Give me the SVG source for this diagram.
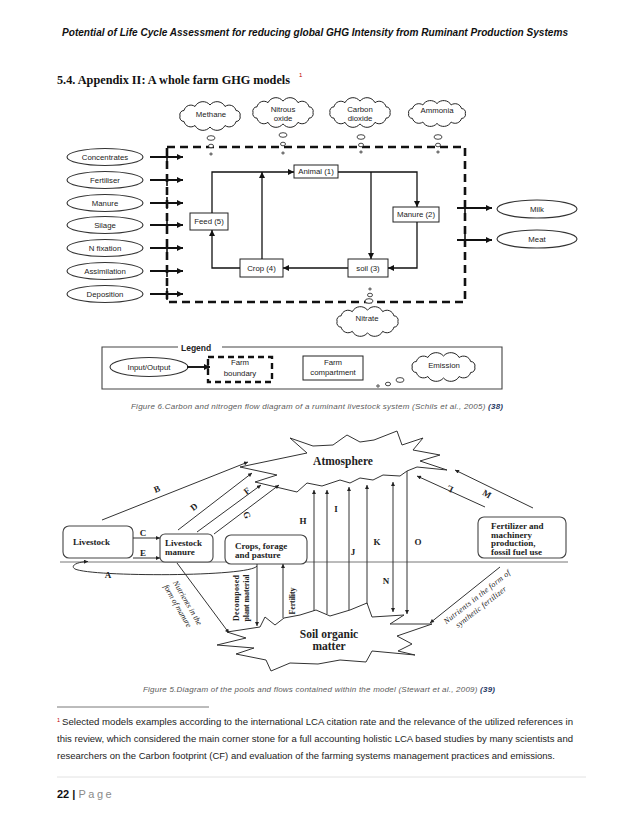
<svg xmlns="http://www.w3.org/2000/svg" xmlns:xlink="http://www.w3.org/1999/xlink" width="638" height="826" viewBox="0 0 638 826">
<defs>
<style>
.sans{font-family:"Liberation Sans",Arial,sans-serif;}
.serif{font-family:"Liberation Serif","Times New Roman",serif;}
.t7{font-family:"Liberation Sans",Arial,sans-serif;font-size:7.8px;fill:#222;text-anchor:middle;}
.bx{fill:#fff;stroke:#222;stroke-width:1;}
.el{fill:#fff;stroke:#333;stroke-width:1.1;}
.fl{fill:none;stroke:#111;stroke-width:1.3;}
.io{fill:none;stroke:#111;stroke-width:1.9;}
.bub{fill:#fff;stroke:#333;stroke-width:0.9;}
.rb{fill:#fff;stroke:#444;stroke-width:1.1;}
.ln{fill:none;stroke:#333;stroke-width:1;}
.lb{font-family:"Liberation Serif","Times New Roman",serif;font-size:9px;font-weight:bold;fill:#222;text-anchor:middle;}
.bt{font-family:"Liberation Serif","Times New Roman",serif;font-size:9px;font-weight:bold;fill:#222;}
.it{font-family:"Liberation Serif","Times New Roman",serif;font-size:8px;font-style:italic;fill:#222;text-anchor:middle;}
.vt{font-family:"Liberation Serif","Times New Roman",serif;font-size:8px;font-weight:bold;fill:#222;text-anchor:middle;}
.cap{font-family:"Liberation Sans",Arial,sans-serif;font-size:8px;font-style:italic;fill:#5a5a5a;}
.fn{font-family:"Liberation Sans",Arial,sans-serif;font-size:9px;fill:#222;}
</style>
<symbol id="cloud" viewBox="0 0 70 30" preserveAspectRatio="none" style="overflow:visible">
<path d="M5,15 A4.2,4.2 0 0 1 9,9.5 A7,7 0 0 1 20,5.5 A9,9 0 0 1 35,4 A9,9 0 0 1 50,5.5 A7,7 0 0 1 61,9.5 A4.2,4.2 0 0 1 65,15 A4.2,4.2 0 0 1 61,20.5 A7,7 0 0 1 50,24.5 A9,9 0 0 1 35,26 A9,9 0 0 1 20,24.5 A7,7 0 0 1 9,20.5 A4.2,4.2 0 0 1 5,15 Z" fill="#fff" stroke="#222" stroke-width="1" vector-effect="non-scaling-stroke"/>
</symbol>
<marker id="ah" viewBox="0 0 10 10" refX="10" refY="5" markerWidth="7" markerHeight="6" markerUnits="userSpaceOnUse" orient="auto"><path d="M0,0 L10,5 L0,10 z" fill="#111"/></marker>
<marker id="as" viewBox="0 0 10 10" refX="10" refY="5" markerWidth="5" markerHeight="4" markerUnits="userSpaceOnUse" orient="auto"><path d="M0,0 L10,5 L0,10 z" fill="#222"/></marker>
<marker id="asr" viewBox="0 0 10 10" refX="0" refY="5" markerWidth="5" markerHeight="4" markerUnits="userSpaceOnUse" orient="auto"><path d="M10,0 L0,5 L10,10 z" fill="#222"/></marker>
</defs>
<rect width="638" height="826" fill="#fff"/>

<!-- page header and title -->
<text x="62" y="36" class="sans" font-size="10" font-weight="bold" font-style="italic" fill="#111" textLength="506" lengthAdjust="spacingAndGlyphs">Potential of Life Cycle Assessment for reducing global GHG Intensity from Ruminant Production Systems</text>
<text x="57" y="84" class="serif" font-size="12.5" font-weight="bold" fill="#111" textLength="233" lengthAdjust="spacingAndGlyphs">5.4. Appendix II: A whole farm GHG models</text>
<text x="299" y="77" class="sans" font-size="6" fill="#c00000">1</text>

<!-- ===== Figure 6 ===== -->
<g id="farm-boundary"><rect x="167" y="147" width="298" height="155" fill="none" stroke="#111" stroke-width="2.6" stroke-dasharray="8,5"/></g>

<g id="methane"><use xlink:href="#cloud" x="175" y="101" width="70" height="30"/><text class="t7" x="211" y="117">Methane</text>
<ellipse class="bub" cx="211" cy="138" rx="4" ry="2.3"/><ellipse class="bub" cx="211" cy="146" rx="2.5" ry="1.8"/><ellipse class="bub" cx="211" cy="154" rx="1.2" ry="1"/></g>
<g id="nitrous-oxide"><use xlink:href="#cloud" x="248" y="97" width="70" height="31"/><text class="t7" x="283" y="112">Nitrous</text><text class="t7" x="283" y="121">oxide</text>
<ellipse class="bub" cx="283" cy="135" rx="4" ry="2.3"/><ellipse class="bub" cx="283" cy="144" rx="2.5" ry="1.8"/><ellipse class="bub" cx="283" cy="153" rx="1.2" ry="1"/></g>
<g id="carbon-dioxide"><use xlink:href="#cloud" x="325" y="97" width="70" height="31"/><text class="t7" x="360" y="112">Carbon</text><text class="t7" x="360" y="121">dioxide</text>
<ellipse class="bub" cx="361" cy="137" rx="4" ry="2.3"/><ellipse class="bub" cx="361" cy="145" rx="2.5" ry="1.8"/><ellipse class="bub" cx="361" cy="152" rx="1.2" ry="1"/></g>
<g id="ammonia"><use xlink:href="#cloud" x="404" y="100" width="66" height="27"/><text class="t7" x="437" y="113">Ammonia</text>
<ellipse class="bub" cx="438" cy="137" rx="4" ry="2.3"/><ellipse class="bub" cx="438" cy="145" rx="2.5" ry="1.8"/><ellipse class="bub" cx="438" cy="152" rx="1.2" ry="1"/></g>
<g id="nitrate"><ellipse class="bub" cx="370" cy="289" rx="1.2" ry="1"/><ellipse class="bub" cx="370" cy="295" rx="2.5" ry="1.8"/><ellipse class="bub" cx="369" cy="301" rx="4" ry="2.3"/>
<use xlink:href="#cloud" x="332" y="306" width="71" height="31"/><text class="t7" x="367" y="321">Nitrate</text></g>

<g id="in-concentrates"><ellipse class="el" cx="105" cy="157" rx="38" ry="8.5"/><text class="t7" x="105" y="159.7">Concentrates</text></g>
<g id="in-fertiliser"><ellipse class="el" cx="105" cy="180" rx="38" ry="8.5"/><text class="t7" x="105" y="182.7">Fertiliser</text></g>
<g id="in-manure"><ellipse class="el" cx="105" cy="203" rx="38" ry="8.5"/><text class="t7" x="105" y="205.7">Manure</text></g>
<g id="in-silage"><ellipse class="el" cx="105" cy="225" rx="38" ry="8.5"/><text class="t7" x="105" y="227.7">Silage</text></g>
<g id="in-nfixation"><ellipse class="el" cx="105" cy="248" rx="38" ry="8.5"/><text class="t7" x="105" y="250.7">N fixation</text></g>
<g id="in-assimilation"><ellipse class="el" cx="105" cy="271" rx="38" ry="8.5"/><text class="t7" x="105" y="273.7">Assimilation</text></g>
<g id="in-deposition"><ellipse class="el" cx="105" cy="294" rx="38" ry="8.5"/><text class="t7" x="105" y="296.7">Deposition</text></g>
<g id="out-milk"><ellipse class="el" cx="537" cy="209" rx="40" ry="9"/><text class="t7" x="537" y="211.7">Milk</text></g>
<g id="out-meat"><ellipse class="el" cx="537" cy="239" rx="40" ry="9"/><text class="t7" x="537" y="241.7">Meat</text></g>

<g id="animal"><rect class="bx" x="294" y="165" width="44" height="13"/><text class="t7" x="316" y="174.3">Animal (1)</text></g>
<g id="feed"><rect class="bx" x="190" y="213" width="38" height="17"/><text class="t7" x="209" y="224.3">Feed (5)</text></g>
<g id="manure2"><rect class="bx" x="393" y="207" width="46" height="15"/><text class="t7" x="416" y="217.3">Manure (2)</text></g>
<g id="crop"><rect class="bx" x="240" y="259" width="43" height="18"/><text class="t7" x="261.5" y="270.8">Crop (4)</text></g>
<g id="soil3"><rect class="bx" x="348" y="259" width="40" height="18"/><text class="t7" x="368" y="270.8">soil (3)</text></g>

<g id="connectors-fig6">
<g stroke="#111" stroke-width="1.6">
<line x1="167" y1="151" x2="167" y2="163"/><line x1="167" y1="174" x2="167" y2="186"/><line x1="167" y1="197" x2="167" y2="209"/><line x1="167" y1="219" x2="167" y2="231"/><line x1="167" y1="242" x2="167" y2="254"/><line x1="167" y1="265" x2="167" y2="277"/><line x1="167" y1="288" x2="167" y2="300"/>
<line x1="465" y1="202" x2="465" y2="214"/><line x1="465" y1="234" x2="465" y2="246"/>
</g>
<line class="io" x1="150" y1="157" x2="183" y2="157" marker-end="url(#ah)"/>
<line class="io" x1="150" y1="180" x2="183" y2="180" marker-end="url(#ah)"/>
<line class="io" x1="150" y1="203" x2="183" y2="203" marker-end="url(#ah)"/>
<line class="io" x1="150" y1="225" x2="183" y2="225" marker-end="url(#ah)"/>
<line class="io" x1="150" y1="248" x2="183" y2="248" marker-end="url(#ah)"/>
<line class="io" x1="150" y1="271" x2="183" y2="271" marker-end="url(#ah)"/>
<line class="io" x1="150" y1="294" x2="183" y2="294" marker-end="url(#ah)"/>
<line class="io" x1="457" y1="208" x2="492" y2="208" marker-end="url(#ah)"/>
<line class="io" x1="457" y1="240" x2="492" y2="240" marker-end="url(#ah)"/>
<path class="fl" d="M212,213 V172 H294" marker-end="url(#ah)"/>
<path class="fl" d="M262,259 V172" marker-end="url(#ah)"/>
<path class="fl" d="M240,268 H212 V230" marker-end="url(#ah)"/>
<path class="fl" d="M338,172 H417 V207" marker-end="url(#ah)"/>
<path class="fl" d="M371,172 V259" marker-end="url(#ah)"/>
<path class="fl" d="M417,222 V268 H388" marker-end="url(#ah)"/>
<path class="fl" d="M348,268 H283" marker-end="url(#ah)"/>
</g>

<g id="legend">
<path d="M178,347 H102 V389 H502 V347 H222" fill="none" stroke="#444" stroke-width="1.1"/>
<text x="181" y="350.5" class="sans" font-size="8.5" font-weight="bold" fill="#222">Legend</text>
<ellipse class="el" cx="149" cy="367" rx="39" ry="9.5"/><text class="t7" x="149" y="369.7">Input/Output</text>
<line class="io" x1="187" y1="367" x2="210" y2="367" marker-end="url(#ah)"/>
<line x1="208" y1="361" x2="208" y2="373" stroke="#111" stroke-width="1.6"/>
<rect x="208" y="357" width="64" height="25" fill="none" stroke="#111" stroke-width="2.4" stroke-dasharray="6,4"/>
<text class="t7" x="240" y="365">Farm</text><text class="t7" x="240" y="376">boundary</text>
<rect class="bx" x="303" y="356" width="60" height="24"/>
<text class="t7" x="333" y="365">Farm</text><text class="t7" x="333" y="375">compartment</text>
<use xlink:href="#cloud" x="407" y="352" width="73" height="30"/><text class="t7" x="444" y="368">Emission</text>
<ellipse class="bub" cx="378" cy="386" rx="1.3" ry="1.1"/><ellipse class="bub" cx="388" cy="384" rx="2.6" ry="1.8"/><ellipse class="bub" cx="400" cy="380" rx="4" ry="2.4"/>
</g>

<text x="131" y="409" class="cap" textLength="372">Figure 6.Carbon and nitrogen flow diagram of a ruminant livestock system (Schils et al., 2005) <tspan font-weight="bold" fill="#1f3864">(38)</tspan></text>

<!-- ===== Figure 5 ===== -->
<g id="atmosphere">
<polygon points="290,438 313,446 333,445 347,435 360,442 374,440 397,431 402,445 423,438 413,450 440,455 420,461 447,470 417,467 407,471 400,476 383,475 373,480 360,478 350,483 340,480 322,486 307,483 297,492 255,482 277,475 240,467 307,453" fill="#fff" stroke="#333" stroke-width="1"/>
<text x="343" y="465" class="serif" font-size="11.5" font-weight="bold" fill="#222" text-anchor="middle">Atmosphere</text>
</g>
<g id="soil-organic-matter">
<polygon points="227,632 260,627 265,617 275,625 284,618 300,615 316,610 330,616 350,610 367,603 372,617 404,615 390,624 432,624 397,636 412,644 398,651 415,655 372,651 366,662 340,660 318,664 290,663 271,671 266,660 236,654 254,648 217,645 246,638" fill="#fff" stroke="#333" stroke-width="1"/>
<text x="329" y="638" class="serif" font-size="11.5" font-weight="bold" fill="#222" text-anchor="middle">Soil organic</text>
<text x="329" y="650" class="serif" font-size="11.5" font-weight="bold" fill="#222" text-anchor="middle">matter</text>
</g>
<line id="ground" x1="60" y1="562" x2="568" y2="562" stroke="#777" stroke-width="1"/>
<g id="livestock"><rect class="rb" x="63" y="526" width="70" height="32" rx="6"/><text class="bt" x="73" y="545">Livestock</text></g>
<g id="livestock-manure"><rect class="rb" x="160" y="534" width="53" height="28" rx="5"/><text class="bt" x="165" y="546">Livestock</text><text class="bt" x="165" y="555">manure</text></g>
<g id="crops"><rect class="rb" x="225" y="535" width="82" height="29" rx="6"/><text class="bt" x="235" y="549">Crops, forage</text><text class="bt" x="235" y="558">and pasture</text></g>
<g id="fertilizer"><rect class="rb" x="478" y="517" width="88" height="41" rx="6"/>
<text class="bt" x="491" y="529" font-size="8.5">Fertilizer and</text><text class="bt" x="491" y="537.5" font-size="8.5">machinery</text><text class="bt" x="491" y="546" font-size="8.5">production,</text><text class="bt" x="491" y="554.5" font-size="8.5">fossil fuel use</text></g>

<g id="connectors-fig5">
<line class="ln" x1="102" y1="520" x2="248" y2="462" marker-end="url(#as)"/>
<line class="ln" x1="178" y1="530" x2="252" y2="473" marker-end="url(#as)"/>
<line class="ln" x1="197" y1="532" x2="261" y2="485" marker-end="url(#as)"/>
<line class="ln" x1="214" y1="534" x2="279" y2="485" marker-end="url(#as)"/>
<line class="ln" x1="485" y1="507" x2="417" y2="476" marker-end="url(#as)"/>
<line class="ln" x1="533" y1="508" x2="455" y2="470" marker-end="url(#as)"/>
<line class="ln" x1="133" y1="538" x2="160" y2="538" marker-end="url(#as)"/>
<line class="ln" x1="133" y1="558" x2="160" y2="558" marker-end="url(#as)"/>
<path class="ln" d="M257,566 C250,577 92,577 75,569 C70,566 76,562 88,561.5" marker-end="url(#as)"/>
<line class="ln" x1="314" y1="611" x2="314" y2="490" marker-end="url(#as)"/>
<line class="ln" x1="327" y1="614" x2="327" y2="490" marker-end="url(#as)"/>
<line class="ln" x1="349" y1="610" x2="349" y2="487" marker-end="url(#as)"/>
<line class="ln" x1="367" y1="604" x2="367" y2="485" marker-end="url(#as)"/>
<line class="ln" x1="393" y1="482" x2="393" y2="612" marker-start="url(#asr)" marker-end="url(#as)"/>
<line class="ln" x1="407" y1="471" x2="407" y2="614" marker-end="url(#as)"/>
<line class="ln" x1="257" y1="564" x2="257" y2="626" marker-end="url(#as)"/>
<line class="ln" x1="283" y1="618" x2="283" y2="564" marker-end="url(#as)"/>
<line class="ln" x1="177" y1="563" x2="229" y2="633" marker-end="url(#as)"/>
<line class="ln" x1="500" y1="567" x2="430" y2="623" marker-end="url(#as)"/>
</g>
<g id="flow-labels">
<text class="lb" x="157" y="492" transform="rotate(-22 157 489)">B</text>
<text class="lb" x="194" y="510" transform="rotate(-38 194 507)">D</text>
<text class="lb" x="247" y="494" transform="rotate(-37 247 491)">F</text>
<text class="lb" x="247" y="518" transform="rotate(70 247 515)">G</text>
<text class="lb" x="143" y="536">C</text>
<text class="lb" x="143" y="556">E</text>
<text class="lb" x="108" y="578">A</text>
<text class="lb" x="303" y="524">H</text>
<text class="lb" x="336" y="512">I</text>
<text class="lb" x="353" y="555">J</text>
<text class="lb" x="377" y="545">K</text>
<text class="lb" x="386" y="584">N</text>
<text class="lb" x="418" y="545">O</text>
<text class="lb" x="450" y="492" transform="rotate(205 450 489)">L</text>
<text class="lb" x="487" y="497" transform="rotate(30 487 494)">M</text>
<text class="it" x="187.5" y="605.5" textLength="50" transform="rotate(60 187.5 603)">Nutrients in the</text>
<text class="it" x="177.5" y="608.5" textLength="48" transform="rotate(60 177.5 606)">form of manure</text>
<text class="vt" x="236" y="600.5" textLength="46" transform="rotate(-90 236 598)">Decomposed</text>
<text class="vt" x="246.5" y="600.5" textLength="47" transform="rotate(-90 246.5 598)">plant material</text>
<text class="vt" x="292" y="603.5" textLength="27" transform="rotate(-90 292 601)">Fertility</text>
<text class="it" x="477" y="599.5" textLength="82" transform="rotate(-38 477 597)">Nutrients in the form of</text>
<text class="it" x="481" y="609.5" textLength="62" transform="rotate(-38 481 607)">synthetic fertilizer</text>
</g>

<text x="143" y="692" class="cap" textLength="352">Figure 5.Diagram of the pools and flows contained within the model (Stewart et al., 2009) <tspan font-weight="bold" fill="#1f3864">(39)</tspan></text>

<!-- footnote and footer -->
<line x1="57" y1="707" x2="209" y2="707" stroke="#555" stroke-width="0.8"/>
<text x="57" y="722" class="sans" font-size="5.5" fill="#c00000">1</text>
<text x="62" y="725" class="fn" textLength="511" lengthAdjust="spacingAndGlyphs">Selected models examples according to the international LCA citation rate and the relevance of the utilized references in</text>
<text x="57" y="742" class="fn" textLength="516" lengthAdjust="spacingAndGlyphs">this review, which considered the main corner stone for a full accounting holistic LCA based studies by many scientists and</text>
<text x="57" y="759" class="fn" textLength="498" lengthAdjust="spacingAndGlyphs">researchers on the Carbon footprint (CF) and evaluation of the farming systems management practices and emissions.</text>
<line x1="57" y1="777" x2="586" y2="777" stroke="#e2e2e2" stroke-width="1"/>
<text x="57" y="798" class="sans" font-size="11" fill="#111"><tspan font-weight="bold">22 | </tspan><tspan fill="#8a8a8a" letter-spacing="2.5">Page</tspan></text>
</svg>
